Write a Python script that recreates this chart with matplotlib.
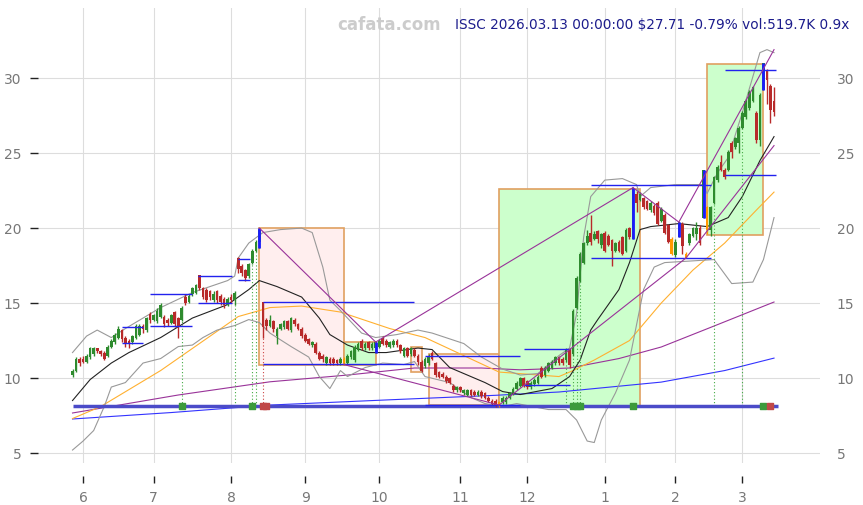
import numpy as np
import pandas as pd
import matplotlib
matplotlib.use("Agg")
import matplotlib.pyplot as plt
from matplotlib.patches import Rectangle

# ---- trading calendar (May 28 2025 .. Mar 13 2026)
holidays = ["2025-06-19", "2025-07-04", "2025-09-01", "2025-11-27",
            "2025-12-25", "2026-01-01", "2026-01-19", "2026-02-16"]
dates = pd.bdate_range("2025-05-28", "2026-03-13")
dates = dates[~dates.isin(pd.to_datetime(holidays))]

# ---- daily candles
opens = [
    10.2, 10.5, 11.3,                                                   # May
    11.3, 11.1, 11.4, 11.6, 12.0, 11.8, 11.7, 11.5, 12.1, 12.4, 12.7, 13.2, 12.7, 12.5, 12.4, 12.7, 12.9, 13.5, 13.2, 14.3,  # Jun
    13.9, 13.8, 14.1, 14.1, 13.9, 13.7, 14.4, 14.0, 13.9, 15.4, 15.1, 15.6, 15.7, 16.9, 16.0, 15.9, 15.8, 15.2, 15.8, 15.5, 15.3, 14.9,  # Jul
    15.4, 15.2, 18.0, 17.5, 17.2, 16.8, 17.7, 18.5, 19.1, 15.1, 13.9, 13.5, 13.8, 12.8, 13.3, 13.4, 13.8, 13.2, 13.9, 13.6, 13.3,  # Aug
    12.9, 12.6, 12.2, 12.3, 11.7, 11.5, 11.0, 11.3, 11.3, 11.2, 11.0, 11.3, 11.0, 11.4, 11.2, 11.9, 12.5, 12.0, 12.4, 12.0, 12.0,  # Sep
    12.1, 12.7, 12.5, 12.1, 12.2, 12.5, 12.2, 11.5, 12.0, 11.6, 11.9, 11.5, 11.1, 10.8, 11.0, 11.7, 11.0, 10.4, 10.3, 10.1, 10.0, 9.5, 9.2,  # Oct
    9.4, 9.0, 8.9, 9.2, 9.1, 8.9, 9.1, 9.0, 8.7, 8.5, 8.5, 8.2, 8.4, 8.4, 8.7, 9.0, 9.3, 9.5, 10.0,  # Nov
    9.8, 9.4, 9.6, 9.7, 10.7, 10.2, 10.5, 10.7, 11.0, 11.4, 11.3, 11.2, 11.9, 11.6, 14.7, 16.5, 17.7, 19.0, 19.7, 19.3, 19.8, 18.9,  # Dec
    19.7, 19.5, 19.2, 18.5, 19.1, 19.4, 18.5, 20.0, 19.3, 22.3, 21.9, 22.0, 21.8, 21.2, 21.5, 21.7, 20.5, 20.9, 20.2, 19.3,  # Jan
    18.2, 19.4, 20.3, 18.3, 19.0, 19.5, 19.6, 20.0, 20.7, 21.4, 19.9, 21.7, 23.2, 24.4, 23.9, 23.9, 25.7, 25.4, 25.7,  # Feb
    26.7, 27.4, 28.0, 28.5, 27.7, 25.9, 29.2, 30.5, 29.5, 28.5,  # Mar
]
closes = [
    10.5, 11.3, 11.0,
    11.1, 11.5, 12.0, 12.0, 11.8, 11.6, 11.3, 12.1, 12.5, 12.9, 13.3, 12.6, 12.3, 12.3, 12.8, 13.5, 13.5, 13.3, 14.0, 13.9,
    14.2, 14.5, 14.9, 13.6, 13.7, 14.2, 13.6, 13.5, 14.7, 15.0, 15.5, 16.0, 16.2, 16.0, 15.4, 15.2, 15.4, 15.6, 15.2, 15.1, 14.9, 15.3,
    15.2, 15.7, 17.3, 17.0, 16.7, 17.6, 18.5, 19.1, 19.9, 13.4, 13.5, 13.9, 13.3, 13.3, 13.6, 13.8, 13.3, 14.0, 13.6, 13.3, 12.8,
    12.5, 12.3, 12.4, 11.7, 11.3, 11.3, 11.4, 11.0, 11.0, 11.0, 11.3, 11.0, 11.5, 11.8, 12.1, 12.3, 12.0, 12.3, 12.0, 12.3, 12.4,
    12.5, 12.3, 12.2, 12.4, 12.5, 12.2, 11.8, 12.0, 11.5, 12.0, 11.5, 11.1, 10.5, 11.3, 11.5, 11.3, 10.2, 10.1, 10.1, 9.8, 9.7, 9.2, 9.4,
    9.2, 9.2, 9.2, 8.9, 8.9, 9.1, 8.8, 8.7, 8.5, 8.3, 8.2, 8.4, 8.7, 8.7, 9.0, 9.3, 9.7, 10.0, 9.5,
    9.4, 9.7, 9.9, 10.1, 10.1, 10.7, 11.0, 11.1, 11.4, 11.0, 11.0, 11.9, 10.9, 14.5, 16.7, 18.3, 19.0, 19.5, 19.1, 19.6, 19.3, 19.6,
    18.5, 18.9, 18.5, 19.0, 18.5, 18.3, 19.9, 19.4, 22.7, 21.7, 22.3, 21.4, 21.3, 21.7, 21.0, 20.3, 21.3, 19.7, 19.1, 18.3,
    19.1, 20.4, 18.8, 18.0, 19.6, 20.0, 20.0, 19.0, 23.9, 19.9, 21.4, 23.4, 24.1, 23.9, 23.4, 25.1, 25.1, 26.0, 26.7,
    27.7, 28.5, 29.1, 29.4, 25.9, 28.9, 31.0, 29.9, 27.9, 27.71,
]
highs = [
    10.6, 11.4, 11.4,
    11.5, 11.6, 12.1, 12.1, 12.0, 11.9, 11.8, 12.2, 12.6, 13.0, 13.5, 13.3, 12.8, 12.6, 12.9, 13.6, 13.6, 13.6, 14.1, 14.4,
    14.3, 14.7, 15.0, 14.2, 14.0, 14.3, 14.5, 14.1, 14.8, 15.6, 15.6, 16.1, 16.3, 16.9, 16.1, 16.0, 15.9, 15.8, 15.9, 15.6, 15.4, 15.4,
    15.6, 15.8, 18.1, 17.6, 17.3, 17.7, 18.6, 19.2, 20.0, 15.1, 14.0, 14.2, 13.9, 13.4, 13.7, 13.9, 13.9, 14.1, 14.0, 13.7, 13.4,
    13.0, 12.7, 12.5, 12.4, 11.8, 11.6, 11.5, 11.4, 11.4, 11.3, 11.4, 11.4, 11.6, 11.9, 12.2, 12.4, 12.6, 12.4, 12.5, 12.4, 12.4,
    12.6, 12.8, 12.6, 12.5, 12.6, 12.6, 12.3, 12.1, 12.1, 12.1, 12.0, 11.6, 11.2, 11.4, 11.6, 11.8, 11.1, 10.5, 10.4, 10.2, 10.1, 9.6, 9.5,
    9.5, 9.3, 9.3, 9.3, 9.2, 9.2, 9.2, 9.1, 8.8, 8.6, 8.6, 8.5, 8.8, 8.8, 9.1, 9.4, 9.8, 10.1, 10.1,
    9.9, 9.8, 10.0, 10.2, 10.8, 10.8, 11.1, 11.2, 11.5, 11.5, 11.4, 12.0, 12.0, 14.6, 16.8, 18.4, 19.1, 19.9, 20.9, 19.8, 19.9, 19.7,
    19.8, 19.6, 19.3, 19.1, 19.2, 19.5, 20.0, 20.1, 22.7, 22.5, 22.4, 22.1, 21.9, 21.8, 21.6, 21.8, 21.4, 21.0, 20.3, 19.4,
    19.3, 20.4, 20.4, 18.4, 19.7, 20.1, 20.4, 20.2, 23.9, 21.5, 21.5, 23.5, 24.2, 24.9, 24.0, 25.2, 25.8, 26.1, 26.8,
    27.8, 28.6, 29.2, 29.5, 27.8, 29.0, 31.0, 30.6, 29.6, 29.4,
]
lows = [
    10.1, 10.4, 10.8,
    11.0, 11.0, 11.3, 11.5, 11.7, 11.5, 11.2, 11.4, 12.0, 12.3, 12.6, 12.4, 12.1, 12.0, 12.3, 12.6, 12.8, 13.0, 13.1, 13.7,
    13.8, 13.7, 14.0, 13.4, 13.5, 13.6, 13.4, 12.7, 13.8, 14.9, 15.0, 15.5, 15.6, 15.9, 15.3, 15.1, 15.2, 15.1, 15.0, 14.9, 14.7, 14.8,
    15.0, 14.9, 17.0, 16.8, 16.5, 16.7, 17.6, 18.4, 18.7, 12.7, 13.2, 13.4, 13.1, 12.3, 13.2, 13.3, 13.2, 13.1, 13.5, 13.2, 12.7,
    12.4, 12.2, 12.1, 11.6, 11.2, 11.1, 10.9, 10.9, 10.9, 10.9, 10.9, 10.9, 10.9, 11.3, 11.1, 11.8, 11.9, 11.9, 11.9, 11.9, 11.7,
    12.0, 12.2, 12.1, 12.0, 12.1, 12.1, 11.7, 11.4, 11.4, 11.5, 11.4, 10.9, 10.4, 10.7, 10.9, 11.2, 10.1, 10.0, 10.0, 9.7, 9.6, 9.1, 9.1,
    9.1, 8.9, 8.8, 8.8, 8.8, 8.8, 8.7, 8.6, 8.4, 8.2, 8.1, 8.1, 8.3, 8.3, 8.6, 8.9, 9.2, 9.4, 9.4,
    9.3, 9.3, 9.5, 9.6, 10.0, 10.1, 10.4, 10.6, 10.9, 10.9, 10.9, 11.1, 10.7, 11.5, 14.6, 16.4, 17.6, 18.9, 18.9, 19.2, 19.0, 18.7,
    18.4, 18.8, 17.5, 18.4, 18.4, 18.2, 18.4, 19.3, 19.3, 21.1, 21.8, 21.3, 21.2, 21.1, 20.9, 20.2, 20.4, 19.6, 19.0, 18.2,
    18.1, 19.4, 18.3, 18.0, 18.9, 19.4, 19.2, 18.9, 20.7, 19.6, 19.5, 21.6, 23.1, 23.8, 23.3, 23.8, 24.7, 25.3, 25.0,
    26.6, 27.3, 27.9, 28.4, 25.7, 25.5, 29.2, 28.3, 27.0, 27.5,
]

# ---- indicator lines (sampled: day index, value)
sma20_idx = [0, 5, 11, 16, 25, 34, 44, 50, 53, 58, 65, 70, 73, 78, 84, 89, 98, 102, 107, 117, 122, 127, 136, 141, 144, 147, 149, 155, 158, 161, 164, 172, 180, 186, 190, 195, 199]
sma20_val = [8.5, 9.9, 11.0, 11.7, 12.7, 14.0, 14.9, 15.9, 16.5, 16.1, 15.4, 14.0, 12.9, 12.2, 11.7, 11.7, 12.0, 11.9, 10.7, 9.7, 9.1, 8.9, 9.3, 10.1, 11.2, 13.2, 13.9, 15.9, 17.7, 19.9, 20.1, 20.3, 20.1, 20.7, 22.1, 24.5, 26.1]
bbu_idx = [0, 4, 7, 11, 15, 25, 34, 44, 46, 47, 50, 54, 59, 65, 68, 71, 73, 76, 82, 86, 92, 98, 102, 111, 116, 122, 127, 132, 138, 141, 143, 145, 147, 151, 156, 160, 161, 164, 171, 179, 180, 183, 186, 190, 195, 197, 199]
bbu_val = [11.7, 12.8, 13.2, 12.7, 13.3, 14.7, 15.7, 16.5, 16.8, 18.0, 19.0, 19.7, 19.9, 20.0, 19.7, 17.4, 15.2, 14.5, 13.0, 12.7, 12.9, 13.2, 13.0, 12.3, 11.4, 10.6, 10.2, 10.3, 11.5, 12.0, 14.3, 19.4, 22.1, 23.2, 23.3, 22.9, 22.1, 22.7, 22.9, 22.9, 22.3, 23.7, 24.7, 27.7, 31.7, 31.9, 31.7]
bbl_idx = [0, 3, 6, 9, 11, 15, 20, 25, 30, 34, 37, 41, 46, 50, 53, 56, 62, 67, 70, 73, 76, 78, 83, 88, 94, 97, 100, 107, 113, 117, 122, 126, 135, 140, 143, 146, 148, 150, 154, 158, 162, 165, 168, 175, 182, 187, 193, 196, 199]
bbl_val = [5.2, 5.8, 6.5, 8.1, 9.4, 9.7, 11.0, 11.3, 12.1, 12.2, 12.7, 13.2, 13.5, 13.9, 13.7, 13.0, 12.1, 11.4, 10.1, 9.3, 10.5, 10.1, 10.7, 11.0, 10.9, 11.1, 10.1, 9.7, 8.7, 8.3, 8.1, 8.3, 7.9, 7.9, 7.2, 5.8, 5.7, 7.2, 9.0, 11.2, 15.9, 17.4, 17.7, 17.8, 17.9, 16.3, 16.4, 17.9, 20.7]
sma50_idx = [0, 8, 25, 36, 47, 56, 65, 76, 90, 100, 121, 138, 142, 148, 158, 167, 176, 185, 194, 199]
sma50_val = [7.3, 8.1, 10.5, 12.3, 14.1, 14.7, 14.8, 14.4, 13.3, 12.7, 10.4, 10.1, 10.5, 11.2, 12.5, 15.0, 17.2, 19.0, 21.2, 22.4]
sma100_idx = [0, 30, 56, 78, 97, 116, 127, 141, 155, 167, 182, 199]
sma100_val = [7.67, 8.87, 9.75, 10.2, 10.67, 10.67, 10.55, 10.67, 11.3, 12.07, 13.47, 15.07]
sma200_idx = [0, 28, 56, 90, 120, 138, 167, 185, 199]
sma200_val = [7.27, 7.7, 8.2, 8.55, 8.85, 9.07, 9.73, 10.5, 11.33]

# ---- pivots, boxes, levels, trend lines, signals
pivot_hi = [53, 86, 159, 172, 179, 196]
pivot_lo = [77, 121, 170, 174, 180]
base_level = 8.13
boxes = [  # (start, end, bottom, top, kind)
    (53, 77, 10.87, 20.0, "down"), (77, 86, 10.87, 12.42, "up"),
    (96, 99, 10.38, 12.07, "down"), (101, 121, 8.2, 11.58, "down"),
    (121, 161, 8.13, 22.58, "up"), (180, 196, 19.53, 30.93, "up"),
]
levels = [  # (start, end, price)
    (14, 20, 13.42), (14, 20, 12.31), (22, 34, 13.49), (22, 34, 15.6),
    (35.6, 45.3, 14.98), (35.6, 45.3, 16.8), (47, 50.4, 17.91), (47, 50.4, 16.53),
    (54, 97, 15.04), (54, 97, 10.91), (100, 127, 11.47), (100, 127, 8.2),
    (128, 141, 11.91), (128, 141, 9.53), (147, 181, 22.87), (147, 181, 17.98),
    (185, 199.5, 30.51), (185, 199.5, 23.51),
]
trend_x = [(53, 86), (86, 159), (159, 172), (172, 199), (77, 121), (121, 174), (174, 199)]
trend_y = [(20.0, 12.4), (12.4, 22.7), (22.7, 20.4), (20.4, 31.9), (10.9, 8.2), (8.2, 18.0), (18.0, 25.5)]
buy_days = [31, 46, 51, 52, 140, 142, 143, 144, 182, 190]
sell_days = [54]
buy_marks = [31, 51, 142, 143, 144, 159, 196]
sell_marks = [54, 55, 198]

title = "ISSC 2026.03.13 00:00:00 $27.71 -0.79% vol:519.7K 0.9x"

o = np.array(opens); c = np.array(closes); h = np.array(highs); l = np.array(lows)
x = np.arange(len(c))

fig = plt.figure(figsize=(8.63, 5.05), dpi=100)
ax = fig.add_axes([0.044, 0.083, 0.906, 0.901])

ax.grid(True, color="#dddddd", lw=0.8, zorder=0)
ax.set_axisbelow(True)

for s, e, b, t, kind in boxes:
    fc = "#ccffcc" if kind == "up" else "#ffeeee"
    ax.add_patch(Rectangle((s, b), e - s, t - b, facecolor=fc, edgecolor="#e0a060", lw=1.2, zorder=1))

ax.plot(sma200_idx, sma200_val, color="#3333ff", lw=0.8, zorder=2)
ax.plot(sma100_idx, sma100_val, color="#993399", lw=0.8, zorder=2)
ax.plot(sma50_idx, sma50_val, color="#ffb030", lw=0.8, zorder=2)
ax.plot(bbu_idx, bbu_val, color="#999999", lw=0.8, zorder=2)
ax.plot(bbl_idx, bbl_val, color="#999999", lw=0.8, zorder=2)
ax.plot(sma20_idx, sma20_val, color="#222222", lw=0.8, zorder=2)

ax.hlines(base_level, x[0], x[-1] + 1, color="#4b4bc8", lw=2.5, zorder=3)

for d in buy_days:
    ax.vlines(d, base_level, l[d], color="#44aa44", lw=0.8, ls=(0, (1, 2)), zorder=2)
for d in sell_days:
    ax.vlines(d, base_level, l[d], color="#cc4444", lw=0.8, ls=(0, (1, 2)), zorder=2)
ax.scatter(buy_marks, [base_level] * len(buy_marks), marker="s", s=18, color="#3c9a3c", zorder=4)
ax.scatter(sell_marks, [base_level] * len(sell_marks), marker="s", s=18, color="#c04848", zorder=4)

up = c >= o
col = np.where(up, "#2e8b2e", "#b82a2a").astype(object)
for d in pivot_lo:
    col[d] = "#ff9900"
ax.vlines(x, l, h, color=list(col), lw=1.0, zorder=3)
body = np.maximum(np.abs(c - o), 0.06)
ax.bar(x, body, bottom=np.minimum(o, c), width=0.75, color=list(col), lw=0, zorder=3)
ax.vlines(pivot_hi, l[pivot_hi], h[pivot_hi], color="#1a1aff", lw=2.0, zorder=4)

for s, e, p in levels:
    ax.hlines(p, s, e, color="#2222ee", lw=1.0, zorder=4)
for xs, ys in zip(trend_x, trend_y):
    ax.plot(xs, ys, color="#993399", lw=0.8, zorder=4)

# axes cosmetics
ax.set_xlim(-9.8, 212)
ax.set_ylim(4.33, 34.67)
for sp in ax.spines.values():
    sp.set_visible(False)
ax.spines["bottom"].set_position(("outward", 9))

first = pd.Series(x, index=dates).groupby(dates.to_period("M")).first()
first = first[first > 0]
ax.set_xticks(first.values)
ax.set_xticklabels([str(p.month) for p in first.index])
ax.tick_params(axis="x", colors="#777777", labelsize=10, length=5, width=1, pad=6)
ax.tick_params(axis="x", which="major", color="#222222")
ax.set_yticks([5, 10, 15, 20, 25, 30])
ax.tick_params(axis="y", colors="#777777", labelsize=10, length=6, width=1, pad=6,
               left=True, right=False, labelleft=True, labelright=True)
ax.tick_params(axis="y", color="#222222")

ax.text(0.449, 0.962, "cafata.com", transform=ax.transAxes, ha="center", va="center",
        fontsize=12, fontweight="bold", color="#cccccc")
ax.text(0.533, 0.962, title, transform=ax.transAxes, ha="left", va="center",
        fontsize=9.85, color="#1c1c8c", clip_on=False)

fig.savefig("out.png", dpi=100)
